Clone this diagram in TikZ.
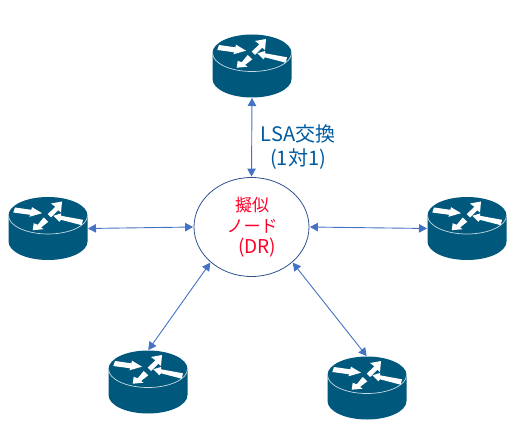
\documentclass[tikz,border=0pt]{standalone}
\usepackage{fontspec}
\setmainfont{Noto Sans CJK JP}
\usetikzlibrary{arrows.meta,shapes.geometric}

\definecolor{r0g88b125}{rgb}{0.000000,0.345098,0.490196}
\definecolor{r68g114b196}{rgb}{0.266667,0.447059,0.768627}
\definecolor{r47g82b143}{rgb}{0.184314,0.321569,0.560784}
\definecolor{r0g90b160}{rgb}{0.000000,0.352941,0.627451}
\definecolor{r255g0b40}{rgb}{1.000000,0.000000,0.156863}

\tikzset{
  routerbox/.style={minimum width=79pt,minimum height=63pt,inner sep=0pt,outer sep=0pt},
  link/.style={r68g114b196,line width=0.9pt,{Triangle[length=8pt,width=8.5pt]}-{Triangle[length=8pt,width=8.5pt]},shorten <=0.5pt,shorten >=0.5pt},
  bluelabel/.style={text=r0g90b160,font=\fontsize{20}{24}\selectfont,align=center,inner sep=0pt},
  redlabel/.style={text=r255g0b40,font=\fontsize{17}{21}\selectfont,align=center,inner sep=0pt}
}

% router: name, x, y of the centre of its top face
\newcommand{\router}[3]{%
  \node [routerbox] (#1) at (#2,#3-13) {};
  \begin{scope}[shift={(#2,#3)}]
    \fill [r0g88b125] (-39.5,0) -- (-39.5,-26) arc (180:360:39.5pt and 18.5pt) -- (39.5,0) arc (0:180:39.5pt and 18.5pt) -- cycle;
    \draw [white!78!r0g88b125,line width=0.7pt] (-39.5,0) arc (180:360:39.5pt and 18.5pt);
    % Four arrows on the top face
    \fill [white] (-33,8) -- (-16.7,5.7) -- (-16,8.3) -- (-6,2.3) -- (-18.7,-1.3) -- (-17.7,0.7) -- (-34.7,3) -- cycle;
    \fill [white] (-0.3,1.3) -- (7.3,8.7) -- (3,12) -- (14,14) -- (13,3) -- (10.3,5.3) -- (3,-2) -- cycle;
    \fill [white] (35,-4.3) -- (13,-0.3) -- (13,2) -- (5.3,-0.3) -- (11.3,-6.3) -- (13,-4.3) -- (33.7,-9.7) -- cycle;
    \fill [white] (-4.3,-2) -- (-10.3,-9.3) -- (-14.3,-7.7) -- (-15.3,-14.7) -- (-4.3,-13.7) -- (-7,-12) -- (0.3,-6.3) -- cycle;
  \end{scope}
}

\begin{document}
\begin{tikzpicture}[x=1pt,y=1pt]
  \useasboundingbox (0,0) rectangle (516,431);

  % Routers
  \router{rtop}{252}{378}
  \router{rleft}{48}{215.5}
  \router{rright}{467}{215.5}
  \router{rlowleft}{148}{62}
  \router{rlowright}{367}{56}

  % Pseudo node
  \node [draw=r47g82b143,line width=0.8pt,ellipse,minimum width=115pt,minimum height=99pt,inner sep=0pt] (dr) at (251.5,204) {};
  \node [redlabel] (drtext) at (252,203.5) {擬似\\ノード\\\hspace{10pt}{\fontsize{19}{21}\selectfont (DR)}};

  % Links
  \draw [link] (rtop.south) -- (dr.north);
  \draw [link] (rleft.east) -- (dr.west);
  \draw [link] (rright.west) -- (dr.east);
  \draw [link] (rlowleft.north) -- (dr.south west);
  \draw [link] (rlowright.north) -- (dr.south east);

  % Exchange label
  \node [bluelabel] (lsatext) at (298,284) {LSA交換\\(1対1)};
\end{tikzpicture}
\end{document}
